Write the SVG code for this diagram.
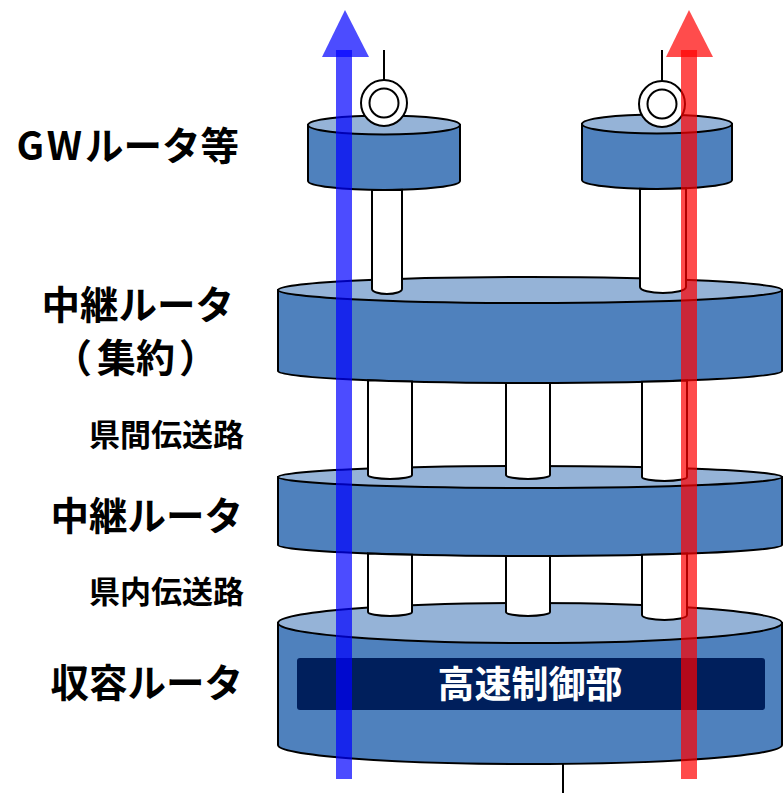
<svg xmlns="http://www.w3.org/2000/svg" width="783" height="793" viewBox="0 0 783 793">
  <style>
    .side { fill: #4F81BD; stroke: #000; stroke-width: 2; }
    .top { fill: #95B3D7; stroke: #000; stroke-width: 2; }
    .pipe { fill: #fff; stroke: #000; stroke-width: 2; }
    .ant { fill: #fff; stroke: #000; stroke-width: 2; }
    .wire { stroke: #000; stroke-width: 2; fill: none; }
    .lbl { font-family: 'Noto Sans CJK JP', 'Noto Sans', sans-serif; font-weight: bold; fill: #000; text-anchor: end; }
    .big { font-size: 38.5px; }
    .small { font-size: 31px; }
    .blue { fill: #0000FF; fill-opacity: 0.7; }
    .red { fill: #FF0000; fill-opacity: 0.7; }
  </style>

  <!-- access router (bottom tier) -->
  <g id="access-router">
    <path class="side" d="M278,623 L278,745 A252,19 0 0 0 782,745 L782,623 Z"/>
    <ellipse class="top" cx="530" cy="623" rx="252" ry="20"/>
    <rect x="297" y="658" width="468" height="52" rx="3" fill="#001F5C"/>
    <text x="530" y="698" font-family="'Noto Sans CJK JP', sans-serif" font-weight="bold" font-size="37" fill="#fff" text-anchor="middle">高速制御部</text>
    <line class="wire" x1="563" y1="764" x2="563" y2="793"/>
  </g>

  <!-- relay router -->
  <g id="relay-router">
    <path class="side" d="M278,477 L278,545 A252,11 0 0 0 782,545 L782,477 Z"/>
    <ellipse class="top" cx="530" cy="477" rx="252" ry="11"/>
  </g>

  <!-- aggregation relay router -->
  <g id="aggregation-router">
    <path class="side" d="M278,290 L278,371 A252,12 0 0 0 782,371 L782,290 Z"/>
    <ellipse class="top" cx="530" cy="290" rx="252" ry="13"/>
  </g>

  <!-- gateway routers -->
  <g id="gw-router-left">
    <path class="side" d="M308,125 L308,181 A76,9 0 0 0 460,181 L460,125 Z"/>
    <ellipse class="top" cx="384" cy="125" rx="76" ry="9.5"/>
    <line class="wire" x1="384" y1="50" x2="384" y2="80"/>
    <circle class="ant" cx="384" cy="103" r="23"/>
    <circle class="ant" cx="384" cy="103" r="14.5"/>
  </g>
  <g id="gw-router-right">
    <path class="side" d="M582,124 L582,180 A75,9 0 0 0 732,180 L732,124 Z"/>
    <ellipse class="top" cx="657" cy="124" rx="75" ry="9.5"/>
    <line class="wire" x1="662" y1="50" x2="662" y2="81"/>
    <circle class="ant" cx="662" cy="104" r="23"/>
    <circle class="ant" cx="662" cy="104" r="14.5"/>
  </g>

  <!-- transmission links between tiers -->
  <g id="links">
    <!-- GW to aggregation -->
    <path class="pipe" d="M372,189.9 L372,289 A15,5 0 0 0 402,289 L402,189.7 A76,9 0 0 1 372,189.9 Z"/>
    <path class="pipe" d="M640,188.8 L640,287 A23,6 0 0 0 686,287 L686,188.3 A75,9 0 0 1 640,188.8 Z"/>
    <!-- inter-prefecture links -->
    <path class="pipe" d="M368,380.2 L368,475 A22,4 0 0 0 412,475 L412,381.6 A252,12 0 0 1 368,380.2 Z"/>
    <path class="pipe" d="M506,382.9 L506,475 A22,4 0 0 0 550,475 L550,382.9 A252,12 0 0 1 506,382.9 Z"/>
    <path class="pipe" d="M642,381.7 L642,477 A22.5,4 0 0 0 687,477 L687,380.4 A252,12 0 0 1 642,381.7 Z"/>
    <!-- intra-prefecture links -->
    <path class="pipe" d="M368,553.4 L368,612 A22,4 0 0 0 412,612 L412,554.7 A252,11 0 0 1 368,553.4 Z"/>
    <path class="pipe" d="M506,555.9 L506,612 A22,4 0 0 0 550,612 L550,555.9 A252,11 0 0 1 506,555.9 Z"/>
    <path class="pipe" d="M642,554.8 L642,615 A22.5,5 0 0 0 687,615 L687,553.6 A252,11 0 0 1 642,554.8 Z"/>
  </g>

  <!-- traffic flows -->
  <g id="flows">
    <rect class="blue" x="336" y="50" width="16" height="729"/>
    <polygon class="blue" points="322,57 345,10 369,57"/>
    <rect class="red" x="681" y="50" width="16" height="729"/>
    <polygon class="red" points="666,57 689,10 713,57"/>
  </g>

  <!-- tier labels -->
  <g id="labels">
    <text class="lbl big" x="239" y="160"><tspan letter-spacing="3">GW</tspan>ルータ等</text>
    <text class="lbl big" x="234" y="319">中継ルータ</text>
    <text class="lbl" font-size="39" y="372"><tspan x="92">（</tspan><tspan x="136">集</tspan><tspan x="175">約</tspan><tspan x="218">）</tspan></text>
    <text class="lbl small" x="244" y="446">県間伝送路</text>
    <text class="lbl big" x="243" y="530">中継ルータ</text>
    <text class="lbl small" x="244" y="603">県内伝送路</text>
    <text class="lbl big" x="243" y="697">収容ルータ</text>
  </g>
</svg>
